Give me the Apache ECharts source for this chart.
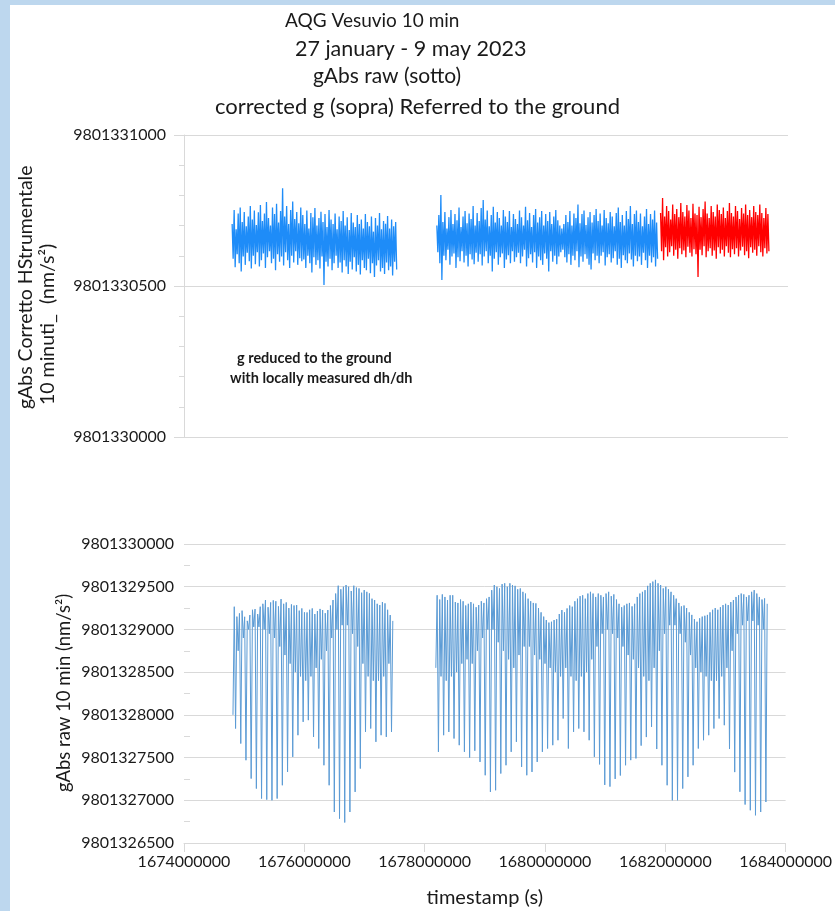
<!DOCTYPE html>
<html>
<head>
<meta charset="utf-8">
<script src="https://cdn.jsdelivr.net/npm/echarts@6/dist/echarts.min.js"></script>
<style>
html,body{margin:0;padding:0;background:#fff;}
#chart{width:835px;height:911px;}
</style>
</head>
<body>
<div id="chart"></div>
<script>
// ---------------- DATA ----------------
// Axis tick values
const xTicks = [1674000000, 1676000000, 1678000000, 1680000000, 1682000000, 1684000000];
const topYTicks = [9801330000, 9801330500, 9801331000];
const bottomYTicks = [9801326500, 9801327000, 9801327500, 9801328000, 9801328500, 9801329000, 9801329500, 9801330000];

// ---- Upper panel: corrected g (nm/s^2), values stored as offset from CORR_BASE ----
const CORR_BASE = 9801330000;
// time span of each acquisition block (s)
const corrSeg1Span = [1674797000, 1677521000];
const corrSeg2BlueSpan = [1678186000, 1681841000];
const corrSeg2RedSpan = [1681890000, 1683684000];
// alternating high / low readings of the noise band
const corrSeg1Hi = [705,752,688,740,760,712,745,698,730,765,720,750,702,744,
  768,715,740,778,725,700,760,738,772,710,748,824,730,765,705,752,780,722,745,708,760,
  735,705,750,690,742,728,758,700,725,746,712,738,695,752,720,705,740,688,730,715,748,
  700,728,685,742,710,695,735,705,720,690,738,712,698,730,680,725,700,742,688,715,706,732,690,720,698,712];
const corrSeg1Lo = [590,562,605,575,548,598,570,610,582,558,600,572,612,565,
  585,608,560,595,615,575,590,552,605,580,598,568,612,585,560,600,578,615,570,592,582,
  588,560,600,575,545,595,570,585,558,598,503,580,565,590,552,575,600,560,578,545,585,
  565,540,580,555,595,548,570,538,585,560,552,590,542,575,530,568,585,548,560,540,578,552,565,535,580,555];
const corrSeg2BlueHi = [700,735,801,712,745,690,728,752,705,738,718,760,695,730,748,708,740,722,765,700,
  742,715,758,785,720,750,698,735,762,710,745,725,700,752,730,712,748,695,738,722,
  705,750,728,700,762,718,742,695,735,755,710,728,748,700,738,715,745,705,730,752,
  718,700,690,705,735,712,748,700,740,725,770,708,738,750,702,728,745,710,735,755,
  715,740,700,752,725,708,745,730,698,742,760,712,735,700,748,722,765,705,738,750,
  712,740,698,730,755,705,738,720,750,710];
const corrSeg2BlueLo = [612,575,520,600,585,620,570,598,608,560,595,582,615,578,600,565,605,588,572,610,
  580,605,568,598,615,575,600,548,590,612,570,595,608,560,588,602,575,615,580,595,
  610,575,598,620,565,592,605,578,612,560,598,585,570,608,590,548,615,580,600,572,
  598,612,620,595,578,605,570,600,585,615,562,598,580,605,590,570,555,608,585,600,
  575,600,612,568,595,605,578,592,615,570,590,560,602,585,575,608,588,565,600,582,
  598,570,610,585,560,600,578,595,565,590];
const corrSeg2RedHi = [742,791,730,765,748,720,770,738,755,728,775,745,730,768,750,725,772,740,
  735,762,728,755,780,740,725,765,745,730,770,752,738,760,725,748,775,742,
  730,765,748,722,758,740,770,735,752,728,765,745,735,770,742,725,758,738];
const corrSeg2RedLo = [615,585,628,598,612,632,600,620,590,625,605,618,595,630,610,598,622,605,
  530,620,602,632,595,615,625,600,618,590,628,608,620,598,632,610,595,622,
  605,625,598,618,630,602,615,592,628,610,620,600,632,612,598,625,608,615];

// ---- Lower panel: raw gAbs (nm/s^2), offset from RAW_BASE, 4 readings per day ----
const RAW_BASE = 9801326000;
const RAW_STEP = 21600; // 6 h between readings
const rawSeg1Start = 1674814000;
const rawSeg2Start = 1678186000;
// per day: shallow trough, first high, deep trough, second high
const rawSeg1Mid = [2000,2750,2900,3000,3030,3030,3000,2950,2900,2800,2700,2600,2500,2450,2400,2450,2550,2650,2750,2900,3000,3050,3050,2950,2800,2600,2450,2400,2400,2450,2600];
const rawSeg1Hi = [3266,3188,3148,3168,3238,3266,3344,3316,3330,3355,3316,3293,3285,3246,3199,3246,3215,3227,3227,3344,3512,3500,3500,3512,3480,3461,3422,3344,3285,3305,3168];
const rawSeg1Lo = [1840,1664,1469,1254,1137,1020,1008,1000,1020,1176,1332,1508,1762,1918,1938,1742,1606,1410,1176,863,785,740,863,1098,1371,1801,1840,1684,1762,1742,1800];
const rawSeg1Hi2 = [3150,3220,3100,3230,3180,3300,3260,3340,3270,3300,3250,3280,3220,3200,3230,3180,3240,3190,3280,3420,3470,3520,3450,3490,3430,3440,3360,3300,3320,3230,3100];
const rawSeg2Mid = [2550,2450,2400,2450,2500,2600,2650,2600,2750,2900,3000,3000,2850,2750,2650,2550,2700,2800,2800,2700,
  2650,2600,2550,2500,2450,2550,2450,2400,2450,2500,2650,2800,2950,3000,2950,2900,2800,2700,2650,2550,
  2450,2400,2550,2750,2950,3050,3050,2950,2850,2700,2550,2500,2450,2400,2400,2450,2550,2750,2950,3050,
  3100,3100,3050,3000];
const rawSeg2Hi = [3400,3410,3344,3400,3310,3330,3300,3300,3285,3310,3380,3520,3480,3540,3540,3510,3480,3420,3330,3305,
  3200,3110,3090,3120,3227,3246,3266,3360,3400,3420,3420,3420,3380,3440,3410,3300,3280,3310,3300,3420,
  3460,3540,3580,3520,3500,3440,3360,3270,3250,3170,3090,3150,3170,3230,3230,3285,3285,3344,3400,3410,
  3400,3460,3380,3363];
const rawSeg2Lo = [1567,1762,1800,1723,1645,1567,1500,1580,1449,1293,1098,1117,1313,1410,1567,1684,1391,1293,1332,1449,
  1567,1606,1645,1703,1957,1606,1801,1840,1801,1703,1508,1420,1180,1160,1250,1290,1410,1470,1490,1640,
  1740,1860,1600,1410,1176,1000,1000,1137,1274,1410,1606,1703,1762,1840,1957,1879,1600,1330,1100,950,
  883,824,863,980];
const rawSeg2Hi2 = [3350,3380,3400,3320,3350,3280,3320,3260,3330,3360,3460,3500,3530,3500,3520,3470,3440,3360,3310,3250,
  3150,3080,3110,3180,3200,3280,3330,3390,3360,3440,3380,3400,3420,3390,3350,3260,3300,3270,3380,3440,
  3510,3560,3540,3480,3470,3400,3310,3280,3200,3120,3130,3160,3200,3250,3260,3300,3320,3380,3420,3380,
  3440,3420,3350,3300];

// ---------------- BUILD ----------------
function bandSeries(span, hi, lo, base) {
  const n = hi.length * 2;
  const dt = (span[1] - span[0]) / (n - 1);
  const out = [];
  for (let k = 0; k < hi.length; k++) {
    out.push([span[0] + (2 * k) * dt, base + hi[k]]);
    out.push([span[0] + (2 * k + 1) * dt, base + lo[k]]);
  }
  return out;
}
function tideSeries(start, mid, hi, lo, hi2, base) {
  const out = [];
  let j = 0;
  for (let d = 0; d < hi.length; d++) {
    [mid[d], hi[d], lo[d], hi2[d]].forEach(v => {
      out.push([start + j * RAW_STEP, base + v]);
      j++;
    });
  }
  return out;
}

const FONT = 'Lato, "Open Sans", sans-serif';
const TXT = '#1a1a1a';
const GRIDC = '#d9d9d9';
const plain = v => String(v);
function label(x, y, text, font, align, rot) {
  const el = {type: 'text', x: x, y: y, silent: true,
    style: {text: text, font: font, fill: TXT, align: align, textAlign: align, verticalAlign: 'middle', textVerticalAlign: 'middle'}};
  if (rot) el.rotation = rot;
  return el;
}
const yMin1 = bottomYTicks[0], yMax1 = bottomYTicks[bottomYTicks.length - 1];

const chart = echarts.init(document.getElementById('chart'), null, {renderer: 'canvas'});
const option = {
  animation: false,
  backgroundColor: '#ffffff',
  textStyle: {fontFamily: FONT},
  grid: [
    {left: 184, top: 135, width: 604, height: 302},
    {left: 184, top: 544, width: 604, height: 299}
  ],
  xAxis: [
    {gridIndex: 0, type: 'value', min: xTicks[0], max: xTicks[xTicks.length - 1], interval: 2000000,
      axisLine: {show: false}, axisTick: {show: false}, axisLabel: {show: false}, splitLine: {show: false}},
    {gridIndex: 1, type: 'value', min: xTicks[0], max: xTicks[xTicks.length - 1], interval: 2000000,
      axisLine: {show: true, onZero: false, lineStyle: {color: GRIDC, width: 1}},
      axisTick: {show: true, length: 9, lineStyle: {color: GRIDC}},
      axisLabel: {formatter: plain, fontSize: 16, color: TXT, fontFamily: FONT, margin: 11},
      splitLine: {show: false},
      name: 'timestamp (s)', nameLocation: 'middle', nameGap: 45,
      nameTextStyle: {fontSize: 20, color: TXT, fontFamily: FONT}}
  ],
  yAxis: [
    {gridIndex: 0, type: 'value', min: topYTicks[0], max: topYTicks[topYTicks.length - 1], interval: 500,
      axisLine: {show: true, lineStyle: {color: GRIDC}},
      axisTick: {show: true, length: 10, lineStyle: {color: GRIDC}},
      minorTick: {show: true, splitNumber: 5, length: 5, lineStyle: {color: GRIDC}},
      axisLabel: {formatter: plain, fontSize: 16, color: TXT, fontFamily: FONT, margin: 18},
      splitLine: {show: true, lineStyle: {color: GRIDC}}},
    {gridIndex: 1, type: 'value', min: yMin1, max: yMax1, interval: 500,
      axisLine: {show: false},
      axisTick: {show: false},
      minorTick: {show: false},
      axisLabel: {formatter: plain, fontSize: 16, color: TXT, fontFamily: FONT, margin: 10},
      splitLine: {show: true, lineStyle: {color: GRIDC}}},
    // helper axis carrying only the short inward minor ticks of the lower panel
    {gridIndex: 1, type: 'value', min: yMin1, max: yMax1, interval: 500, position: 'left', offset: -6,
      axisLine: {show: false}, axisTick: {show: false}, axisLabel: {show: false}, splitLine: {show: false},
      minorTick: {show: true, splitNumber: 2, length: 6, lineStyle: {color: GRIDC}}}
  ],
  series: [
    {type: 'line', xAxisIndex: 0, yAxisIndex: 0, showSymbol: false, symbol: 'none',
      lineStyle: {color: '#1e8cf8', width: 1.3}, data: bandSeries(corrSeg1Span, corrSeg1Hi, corrSeg1Lo, CORR_BASE)},
    {type: 'line', xAxisIndex: 0, yAxisIndex: 0, showSymbol: false, symbol: 'none',
      lineStyle: {color: '#1e8cf8', width: 1.3}, data: bandSeries(corrSeg2BlueSpan, corrSeg2BlueHi, corrSeg2BlueLo, CORR_BASE)},
    {type: 'line', xAxisIndex: 0, yAxisIndex: 0, showSymbol: false, symbol: 'none',
      lineStyle: {color: '#ff0000', width: 1.3}, data: bandSeries(corrSeg2RedSpan, corrSeg2RedHi, corrSeg2RedLo, CORR_BASE)},
    {type: 'line', xAxisIndex: 1, yAxisIndex: 1, showSymbol: false, symbol: 'none',
      lineStyle: {color: '#5b9bd5', width: 1}, data: tideSeries(rawSeg1Start, rawSeg1Mid, rawSeg1Hi, rawSeg1Lo, rawSeg1Hi2, RAW_BASE)},
    {type: 'line', xAxisIndex: 1, yAxisIndex: 1, showSymbol: false, symbol: 'none',
      lineStyle: {color: '#5b9bd5', width: 1}, data: tideSeries(rawSeg2Start, rawSeg2Mid, rawSeg2Hi, rawSeg2Lo, rawSeg2Hi2, RAW_BASE)}
  ],
  graphic: [
    {type: 'rect', left: 0, top: 0, shape: {width: 835, height: 5}, style: {fill: '#bdd7ee'}, silent: true},
    {type: 'rect', left: 0, top: 0, shape: {width: 10, height: 911}, style: {fill: '#bdd7ee'}, silent: true},
    label(285, 21, 'AQG Vesuvio 10 min', '19px ' + FONT, 'left'),
    label(295, 49, '27 january - 9 may 2023', '21.5px ' + FONT, 'left'),
    label(313, 76, 'gAbs raw (sotto)', '21px ' + FONT, 'left'),
    label(215, 107, 'corrected g (sopra) Referred to the ground', '22px ' + FONT, 'left'),
    label(26, 409, 'gAbs Corretto HStrumentale', '19.5px ' + FONT, 'left', Math.PI / 2),
    label(48, 405, '10 minuti_  (nm/s²)', '19.5px ' + FONT, 'left', Math.PI / 2),
    label(64, 693, 'gAbs raw 10 min (nm/s²)', '18.5px ' + FONT, 'center', Math.PI / 2),
    label(237, 358, 'g reduced to the ground', 'bold 14.5px ' + FONT, 'left'),
    label(230, 378, 'with locally measured dh/dh', 'bold 14.5px ' + FONT, 'left')
  ]
};
chart.setOption(option);
</script>
</body>
</html>
